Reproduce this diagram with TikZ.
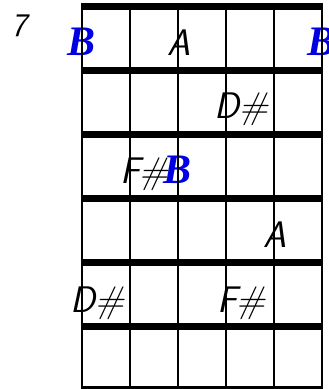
\documentclass[tikz,border=0pt]{standalone}
\usepackage{fontspec}
\newfontfamily\rootfont{Liberation Serif}
\definecolor{noteblue}{RGB}{0,0,225}
\begin{document}
\begin{tikzpicture}[x=1pt,y=-1pt,
  note/.style={anchor=base,inner sep=0pt,font=\sffamily\itshape\fontsize{37}{42}\selectfont},
  rootnote/.style={anchor=base,inner sep=0pt,text=noteblue,font=\rootfont\bfseries\itshape\fontsize{42}{46}\selectfont},
  fretnum/.style={anchor=base,inner sep=0pt,font=\sffamily\itshape\fontsize{33}{38}\selectfont},
  fretline/.style={line width=7pt},
  stringline/.style={line width=2.2pt}]
\useasboundingbox (0,0) rectangle (329,389);
% fret number
\node[fretnum] (fn) at (19,36) {7};
% notes (letter centred on the string)
\node[rootnote] (r1) at (82,55) {B};
\node[note] (a1) at (179,55) {A};
\node[rootnote] (r2) at (322,55) {B};
\node[note] (d1) at (227,118) {D\rlap{\#}};
\node[note] (f1) at (130,183) {F\rlap{\#}};
\node[rootnote] (r3) at (178,183) {B};
\node[note] (a2) at (275,247) {A};
\node[note] (d2) at (83,312) {D\rlap{\#}};
\node[note] (f2) at (227,312) {F\rlap{\#}};
% frets
\foreach \k in {0,...,5}
  \draw[fretline] (80.9,6.7+64*\k) -- (323.1,6.7+64*\k);
\draw[fretline] (80.9,389.8) -- (323.1,389.8);
% strings
\foreach \x in {82,130,178,226,274,322}
  \draw[stringline] (\x,3.2) -- (\x,392);
\end{tikzpicture}
\end{document}
